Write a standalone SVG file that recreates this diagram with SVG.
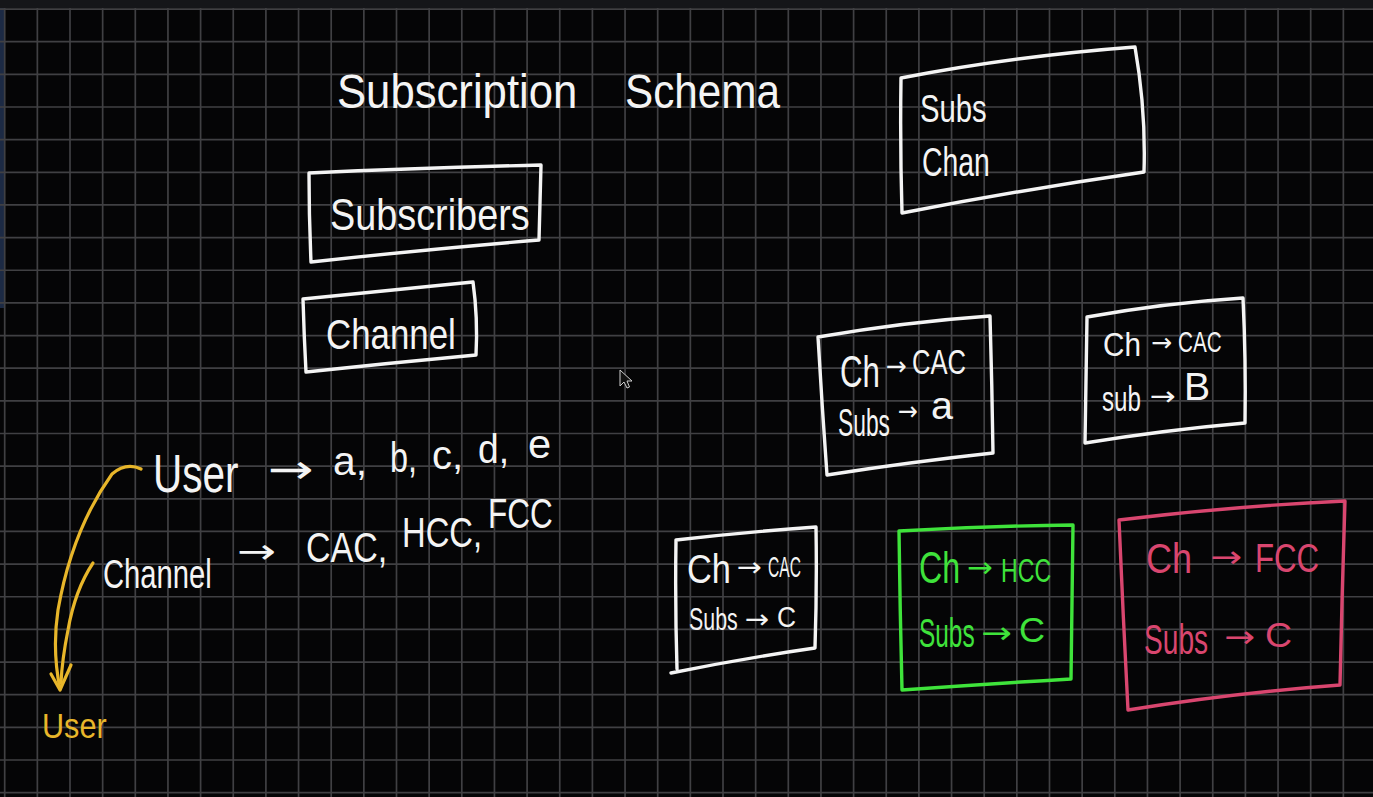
<svg xmlns="http://www.w3.org/2000/svg" width="1373" height="797" viewBox="0 0 1373 797">
<style>
.grid{stroke:#404043;stroke-width:1.7;fill:none}
.box{fill:none;stroke-width:3.4;stroke-linejoin:round;stroke-linecap:round}
.w{stroke:#f4f4f4}
.g{stroke:#3fe33b}
.p{stroke:#d9466f}
.t{font-family:"Liberation Sans","DejaVu Sans",sans-serif;fill:#f4f4f4}
.d{font-family:"DejaVu Sans","Liberation Sans",sans-serif;fill:#f4f4f4}
.tg{fill:#3fe33b}
.tp{fill:#d9466f}
.ty{fill:#e8b62a}
.con{fill:none;stroke:#e8b62a;stroke-width:3.2;stroke-linecap:round;stroke-linejoin:round}
</style>
<rect width="1373" height="797" fill="#050506"/>
<rect width="1373" height="8" fill="#151619"/>
<rect x="0" y="8" width="4" height="300" fill="#1c2a44"/>
<path class="grid" d="M4.7 8V797M37.35 8V797M70 8V797M102.65 8V797M135.3 8V797M167.95 8V797M200.6 8V797M233.25 8V797M265.9 8V797M298.55 8V797M331.2 8V797M363.85 8V797M396.5 8V797M429.15 8V797M461.8 8V797M494.45 8V797M527.1 8V797M559.75 8V797M592.4 8V797M625.05 8V797M657.7 8V797M690.35 8V797M723 8V797M755.65 8V797M788.3 8V797M820.95 8V797M853.6 8V797M886.25 8V797M918.9 8V797M951.55 8V797M984.2 8V797M1016.85 8V797M1049.5 8V797M1082.15 8V797M1114.8 8V797M1147.45 8V797M1180.1 8V797M1212.75 8V797M1245.4 8V797M1278.05 8V797M1310.7 8V797M1343.35 8V797
M0 9.05H1373M0 41.7H1373M0 74.35H1373M0 107H1373M0 139.65H1373M0 172.3H1373M0 204.95H1373M0 237.6H1373M0 270.25H1373M0 302.9H1373M0 335.55H1373M0 368.2H1373M0 400.85H1373M0 433.5H1373M0 466.15H1373M0 498.8H1373M0 531.45H1373M0 564.1H1373M0 596.75H1373M0 629.4H1373M0 662.05H1373M0 694.7H1373M0 727.35H1373M0 760H1373M0 792.65H1373"/>

<g id="title">
<text class="t" font-size="48" transform="translate(337 108) scale(.91 1)">Subscription</text>
<text class="t" font-size="48" transform="translate(625 108) scale(.88 1)">Schema</text>
</g>

<g id="node-subscribers">
<path class="box w" d="M309 173 Q420 168 541 165 Q540 205 539 240 Q430 249 311 262 Q309 216 309 173 Z"/>
<text class="t" font-size="44" transform="translate(330 230) scale(.86 1)">Subscribers</text>
</g>

<g id="node-channel">
<path class="box w" d="M303 299 Q390 290 473 282 Q478 318 476 355 Q390 363 306 372 Q304 335 303 299 Z"/>
<text class="t" font-size="42" transform="translate(326 349) scale(.83 1)">Channel</text>
</g>

<g id="node-subs-chan">
<path class="box w" d="M901 78 Q1015 56 1135 47 Q1146 110 1144 172 Q1020 190 902 213 Q900 146 901 78 Z"/>
<text class="t" font-size="38" transform="translate(920 122) scale(.77 1)">Subs</text>
<text class="t" font-size="40" transform="translate(922 176) scale(.71 1)">Chan</text>
</g>

<g id="node-cac-a">
<path class="box w" d="M818 337 Q905 322 990 316 Q992 385 993 453 Q910 462 827 475 Q822 406 818 337 Z"/>
<text class="t" font-size="44" transform="translate(840 387) scale(.71 1)">Ch</text>
<text class="d" font-size="26" transform="translate(886 375) scale(.96 1)">→</text>
<text class="t" font-size="35" transform="translate(912 374) scale(.73 1)">CAC</text>
<text class="t" font-size="38" transform="translate(838 436) scale(.6 1)">Subs</text>
<text class="d" font-size="26" transform="translate(898 420) scale(.92 1)">→</text>
<text class="t" font-size="38" transform="translate(931 419) scale(1.04 1)">a</text>
</g>

<g id="node-cac-b">
<path class="box w" d="M1087 317 Q1165 303 1243 298 Q1246 360 1245 423 Q1165 430 1085 443 Q1086 380 1087 317 Z"/>
<text class="t" font-size="33" transform="translate(1103 356) scale(.9 1)">Ch</text>
<text class="d" font-size="25" transform="translate(1151 351)">→</text>
<text class="t" font-size="30" transform="translate(1178 352) scale(.69 1)">CAC</text>
<text class="t" font-size="36" transform="translate(1102 411) scale(.67 1)">sub</text>
<text class="d" font-size="26" transform="translate(1150 405) scale(1.19 1)">→</text>
<text class="t" font-size="38" transform="translate(1184 400) scale(1.03 1)">B</text>
</g>

<g id="node-cac-c">
<path class="box w" d="M676 540 Q746 532 816 527 Q817 588 815 648 Q745 658 671 673 M677 669 Q675 605 676 540"/>
<text class="t" font-size="40" transform="translate(687 583) scale(.86 1)">Ch</text>
<text class="d" font-size="26" transform="translate(737 576) scale(1.15 1)">→</text>
<text class="t" font-size="30" transform="translate(768 577) scale(.52 1)">CAC</text>
<text class="t" font-size="31" transform="translate(689 630) scale(.69 1)">Subs</text>
<text class="d" font-size="26" transform="translate(745 628) scale(1.12 1)">→</text>
<text class="t" font-size="29" transform="translate(777 627) scale(.91 1)">C</text>
</g>

<g id="node-hcc-c">
<path class="box g" d="M899 531 Q986 526 1073 525 Q1072 603 1071 679 Q985 684 902 690 Q900 610 899 531 Z"/>
<text class="t tg" font-size="44" transform="translate(919 583) scale(.73 1)">Ch</text>
<text class="d tg" font-size="28" transform="translate(967 577) scale(1.1 1)">→</text>
<text class="t tg" font-size="34" transform="translate(1001 582) scale(.68 1)">HCC</text>
<text class="t tg" font-size="40" transform="translate(919 647) scale(.61 1)">Subs</text>
<text class="d tg" font-size="30" transform="translate(981 643) scale(1.22 1)">→</text>
<text class="t tg" font-size="35" transform="translate(1019 642) scale(1.03 1)">C</text>
</g>

<g id="node-fcc-c">
<path class="box p" d="M1119 520 Q1233 506 1345 501 Q1342 593 1340 685 Q1233 693 1128 710 Q1123 615 1119 520 Z"/>
<text class="t tp" font-size="42" transform="translate(1146 573) scale(.86 1)">Ch</text>
<text class="d tp" font-size="30" transform="translate(1210 567) scale(1.27 1)">→</text>
<text class="t tp" font-size="40" transform="translate(1255 572) scale(.78 1)">FCC</text>
<text class="t tp" font-size="42" transform="translate(1144 654) scale(.67 1)">Subs</text>
<text class="d tp" font-size="30" transform="translate(1224 647) scale(1.23 1)">→</text>
<text class="t tp" font-size="35" transform="translate(1265 647) scale(1.07 1)">C</text>
</g>

<g id="node-user-list">
<text class="t" font-size="54" transform="translate(153 492) scale(.75 1)">User</text>
<text class="d" font-size="40" transform="translate(268 483) scale(1.37 1)">→</text>
<text class="t" font-size="40" transform="translate(333 475) scale(1.02 1)">a,</text>
<text class="t" font-size="42" transform="translate(390 472) scale(.77 1)">b,</text>
<text class="t" font-size="40" transform="translate(432 469)">c,</text>
<text class="t" font-size="40" transform="translate(478 463) scale(.93 1)">d,</text>
<text class="t" font-size="40" transform="translate(528 458) scale(1.04 1)">e</text>
</g>

<g id="node-channel-list">
<text class="t" font-size="40" transform="translate(103 588) scale(.73 1)">Channel</text>
<text class="d" font-size="34" transform="translate(237 563) scale(1.37 1)">→</text>
<text class="t" font-size="42" transform="translate(306 562) scale(.81 1)">CAC,</text>
<text class="t" font-size="42" transform="translate(402 547) scale(.78 1)">HCC,</text>
<text class="t" font-size="42" transform="translate(488 528) scale(.75 1)">FCC</text>
</g>

<g id="node-user-yellow">
<text class="t ty" font-size="36" transform="translate(42 738) scale(.85 1)">User</text>
</g>

<g id="connectors">
<path class="con" d="M141 469 Q126 462 112 474 Q72 530 58 610 Q52 650 60 689"/>
<path class="con" d="M93 563 Q75 590 68 630 Q62 660 61 683"/>
<path class="con" d="M51 674 L60 690 L71 665"/>
</g>

<path d="M620 370 L620 386 L624 382 L627 388 L629.5 387 L627 381 L632 381 Z" fill="#111" stroke="#cfcfcf" stroke-width="1"/>
</svg>
